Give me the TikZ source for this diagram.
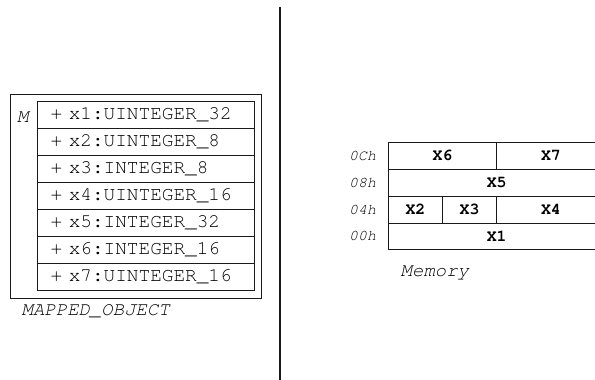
\documentclass[tikz,border=0pt]{standalone}
\usepackage{fontspec}
\setmonofont{TeX Gyre Cursor}
\usetikzlibrary{positioning}
\definecolor{umlLine}{HTML}{1A1A1A}
\tikzset{
  umlOuter/.style={
    draw=umlLine,
    line width=0.9pt,
    minimum width=251pt,
    minimum height=204pt,
    inner sep=0pt,
    outer sep=0pt
  },
  attrRow/.style={
    draw=umlLine,
    line width=0.9pt,
    text width=190.3pt,
    inner xsep=13pt,
    align=left,
    minimum height=26.9pt,
    outer sep=0pt,
    font=\fontsize{19.4}{21}\selectfont\ttfamily
  },
  memCell/.style={
    draw=umlLine,
    line width=0.9pt,
    minimum height=26.9pt,
    inner sep=0pt,
    outer sep=0pt,
    font=\fontsize{16.5}{18}\selectfont\ttfamily\bfseries
  },
  addrLabel/.style={font=\fontsize{15}{17}\selectfont\ttfamily\itshape, inner sep=0pt},
  captionLabel/.style={font=\fontsize{19}{21}\selectfont\ttfamily\itshape, anchor=west, inner sep=0pt}
}

\begin{document}
\begin{tikzpicture}[x=1pt,y=-1pt]
  \useasboundingbox (0,0) rectangle (595,380);

  % class box
  \node[umlOuter] (mapped) at (135.5,196) {};
  \node[captionLabel, anchor=center] (stereo) at (22.7,116.7) {M};
  \foreach \txt [count=\i] in {+ x1:UINTEGER\_32, + x2:UINTEGER\_8, + x3:INTEGER\_8,
      + x4:UINTEGER\_16, + x5:INTEGER\_32, + x6:INTEGER\_16, + x7:UINTEGER\_16} {
    \node[attrRow] (attr\i) at (145.85,{88.25+26.9*\i}) {\txt};
  }
  \node[captionLabel] (mappedName) at (21.5,311.7) {MAPPED\_OBJECT};

  % divider
  \coordinate (divTop) at (280.3,7);
  \coordinate (divBottom) at (280.3,380);
  \draw[umlLine, line width=2.2pt] (divTop) -- (divBottom);

  % memory layout
  \node[memCell, minimum width=108.4pt] (x6) at (442.5,155.75) {X6};
  \node[memCell, minimum width=108.4pt, right=0pt of x6] (x7) {X7};
  \node[memCell, minimum width=216.8pt] (x5) at (496.7,182.65) {X5};
  \node[memCell, minimum width=54.2pt] (x2) at (415.4,209.55) {X2};
  \node[memCell, minimum width=54.2pt, right=0pt of x2] (x3) {X3};
  \node[memCell, minimum width=108.4pt, right=0pt of x3] (x4) {X4};
  \node[memCell, minimum width=216.8pt] (x1) at (496.7,236.45) {X1};

  \node[addrLabel, left=12pt of x6] (a0C) {0Ch};
  \node[addrLabel, left=12pt of x5.west] (a08) {08h};
  \node[addrLabel, left=12pt of x2] (a04) {04h};
  \node[addrLabel, left=12pt of x1.west] (a00) {00h};

  \node[captionLabel] (memName) at (400.5,273) {Memory};
\end{tikzpicture}
\end{document}
